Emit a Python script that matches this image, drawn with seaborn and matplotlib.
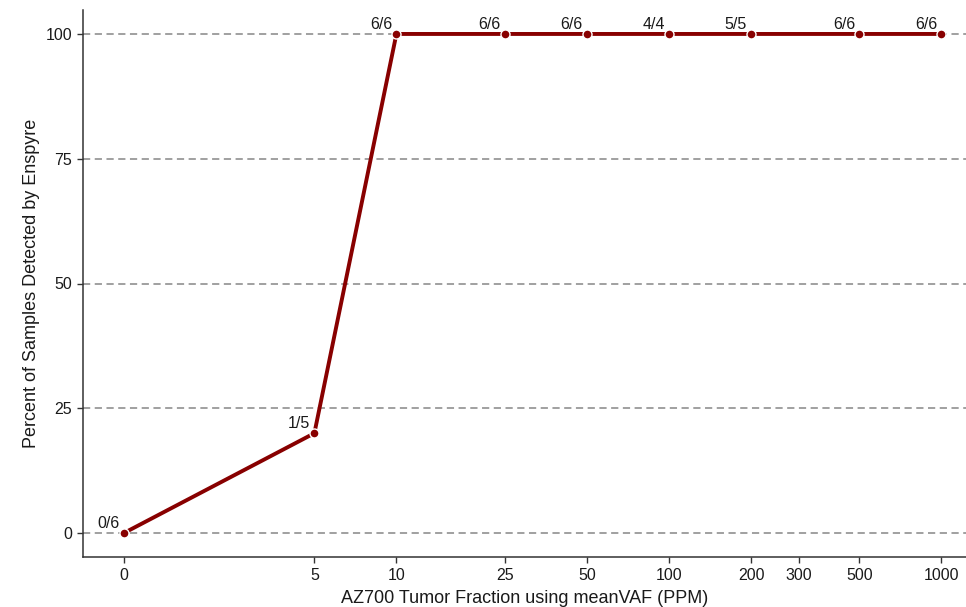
import matplotlib

matplotlib.use("Agg")
import matplotlib.pyplot as plt
import numpy as np
import pandas as pd
import seaborn as sns

# detection results per spike-in level
tumor_fraction_ppm = [0, 5, 10, 25, 50, 100, 200, 500, 1000]
percent_detected = [0, 20, 100, 100, 100, 100, 100, 100, 100]
detected_labels = ["0/6", "1/5", "6/6", "6/6", "6/6", "4/4", "5/5", "6/6", "6/6"]

x_ticks = [0, 5, 10, 25, 50, 100, 200, 300, 500, 1000]
y_ticks = [0, 25, 50, 75, 100]

df = pd.DataFrame({"ppm": tumor_fraction_ppm, "pct": percent_detected, "label": detected_labels})


def fwd(x):
    x = np.asarray(x, dtype=float)
    return np.where(x > 0, np.log10(np.maximum(x, 1)), x)


def inv(y):
    y = np.asarray(y, dtype=float)
    return np.where(y > 0, 10 ** y, y)


sns.set_theme(style="white")
plt.rcParams["font.family"] = ["Liberation Sans", "DejaVu Sans"]

fig = plt.figure(figsize=(9.66, 6.07), dpi=100)
ax = fig.add_axes([83 / 966, 50 / 607, 883 / 966, 547 / 607])
ax.set_xscale("function", functions=(fwd, inv))

ax.grid(axis="y", color="#999999", linestyle=(0, (4, 2.5)), linewidth=1.3, zorder=0)
ax.set_axisbelow(True)

sns.lineplot(data=df, x="ppm", y="pct", ax=ax, color="#880000", linewidth=2.8,
             marker="o", markersize=6.5, markeredgecolor="white", markeredgewidth=1.0,
             zorder=3)

for _, row in df.iterrows():
    ax.annotate(row["label"], (row["ppm"], row["pct"]), xytext=(-3, 1.5),
                textcoords="offset points", ha="right", va="bottom",
                fontsize=11.5, color="#1a1a1a")

ax.set_xlim(-0.15, 1230)
ax.set_ylim(-4.8, 104.8)
ax.set_xticks(x_ticks)
ax.set_xticklabels([str(t) for t in x_ticks])
ax.set_yticks(y_ticks)
ax.set_yticklabels([str(t) for t in y_ticks])
ax.xaxis.set_minor_locator(matplotlib.ticker.NullLocator())

ax.set_xlabel("AZ700 Tumor Fraction using meanVAF (PPM)", fontsize=13, color="#1a1a1a", labelpad=5)
ax.set_ylabel("Percent of Samples Detected by Enspyre", fontsize=13, color="#1a1a1a", labelpad=3.5)

for side in ["top", "right"]:
    ax.spines[side].set_visible(False)
for side in ["left", "bottom"]:
    ax.spines[side].set_color("#333333")
    ax.spines[side].set_linewidth(1.1)

ax.tick_params(axis="both", which="major", length=4, width=1, color="#333333",
               labelsize=11.5, labelcolor="#1a1a1a", bottom=True, left=True, pad=4)

fig.savefig("out.png", dpi=100)
plt.close(fig)
